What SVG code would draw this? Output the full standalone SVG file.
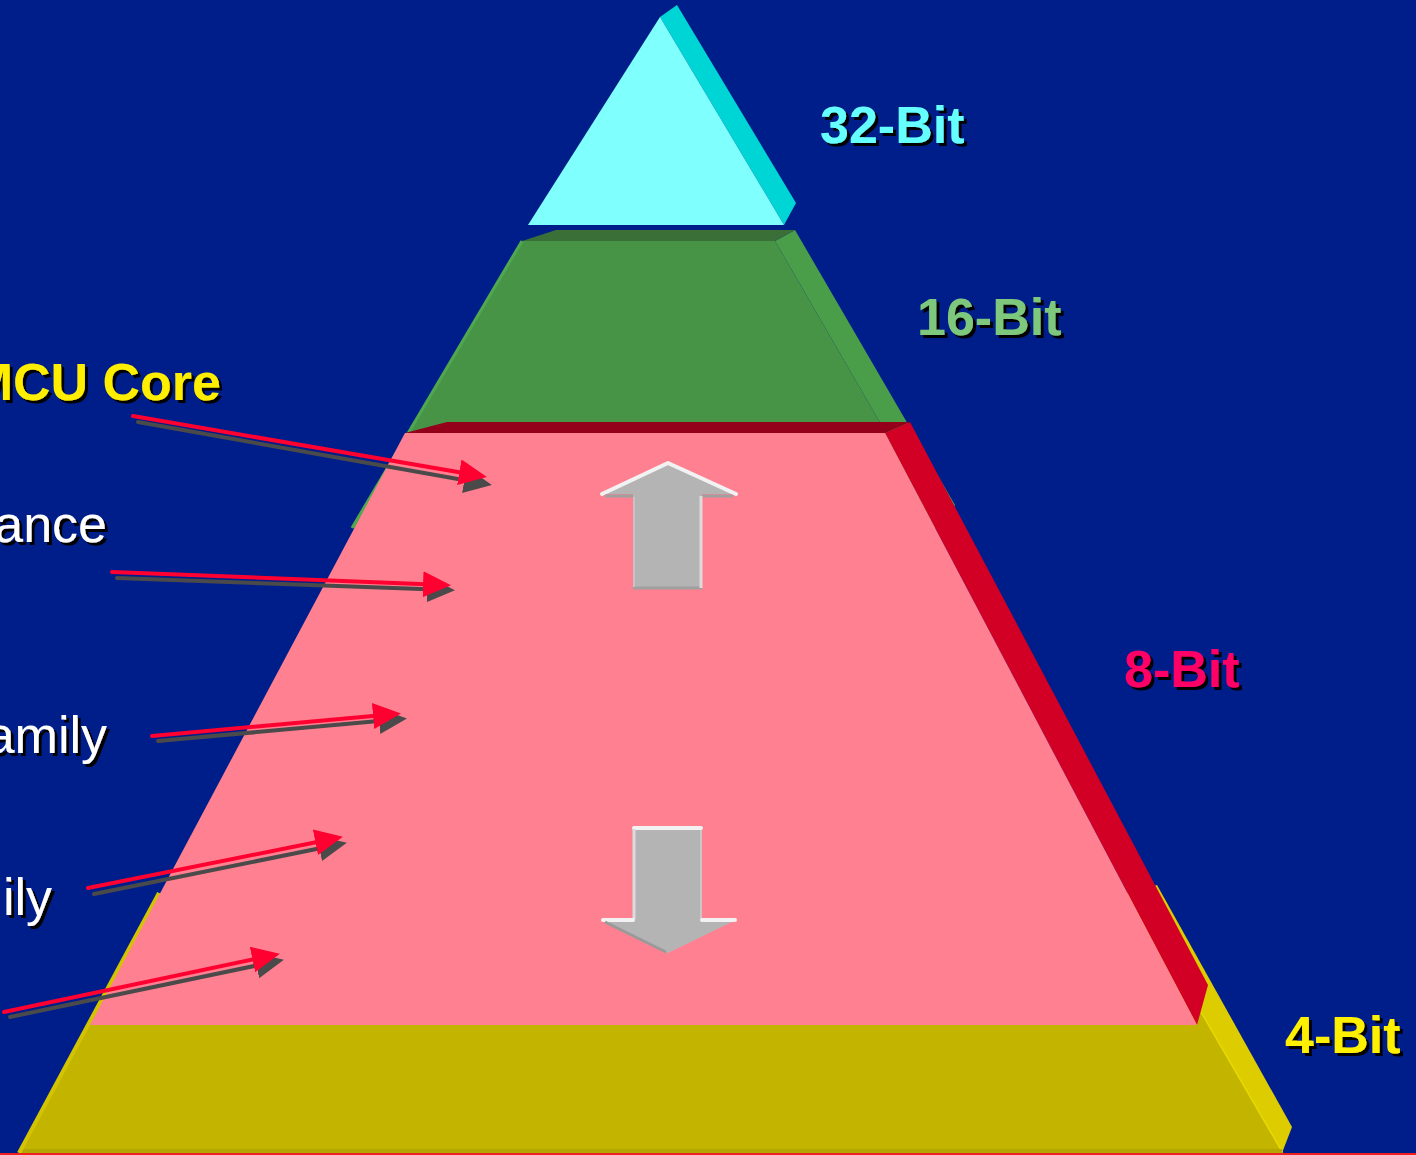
<svg xmlns="http://www.w3.org/2000/svg" width="1416" height="1155" viewBox="0 0 1416 1155">
<defs>
<style>
.lbl{font-family:"Liberation Sans",Arial,sans-serif;font-weight:bold;font-size:52px;filter:url(#ds)}
.txt{font-family:"Liberation Sans",Arial,sans-serif;font-size:52px;filter:url(#ds)}
.ln{stroke-width:4;stroke-linecap:round;fill:none}
.red{stroke:#FF0030}
.gray{stroke:#4A4A4A}
</style>
<filter id="ds" x="-10%" y="-20%" width="130%" height="150%">
<feDropShadow dx="3" dy="3" stdDeviation="0" flood-color="#000000" flood-opacity="1"/>
</filter>
<marker id="hr" markerUnits="userSpaceOnUse" markerWidth="30" markerHeight="28" refX="22" refY="13" orient="auto">
<path d="M0,0 L28,13 L0,26 Z" fill="#FF0030"/>
</marker>
<marker id="hg" markerUnits="userSpaceOnUse" markerWidth="30" markerHeight="28" refX="22" refY="13" orient="auto">
<path d="M0,0 L28,13 L0,26 Z" fill="#4A4A4A"/>
</marker>
</defs>
<rect x="0" y="0" width="1416" height="1155" fill="#001E8A"/>

<g id="layer-4bit">
<polygon points="1131,893 1157,885 1292,1127 1282,1153" fill="#DCCC00"/>
<line x1="1131" y1="893" x2="1282" y2="1153" stroke="#E8DA00" stroke-width="3"/>
<polygon points="158,893 1131,893 1282,1153 19,1153" fill="#C3B400"/>
<rect x="19" y="1149" width="1263" height="4" fill="#B4A600"/>
<line x1="159" y1="893" x2="19" y2="1153" stroke="#D4C400" stroke-width="4"/>
</g>

<g id="layer-16bit">
<polygon points="775,241 795,230 955,505 941,528" fill="#4A9E4A"/>
<polygon points="522,241 775,241 941,528 352,528" fill="#479447"/>
<polygon points="522,241 556,230 795,230 775,241" fill="#3A7038"/>
<line x1="522" y1="241" x2="352" y2="528" stroke="#4FA84F" stroke-width="3"/>
</g>

<g id="layer-8bit">
<polygon points="885,433 910,422 1208,985 1197,1025" fill="#D20025"/>
<polygon points="405,433 885,433 1197,1025 90,1025" fill="#FF8090"/>
<polygon points="405,433 447,422 910,422 885,433" fill="#94001A"/>
</g>

<g id="layer-32bit">
<polygon points="660,17 677,5 796,203 784,225" fill="#00D5D5"/>
<polygon points="660,17 784,225 528,225" fill="#80FFFF"/>
</g>

<rect x="0" y="1153" width="1416" height="2" fill="#F02020"/>

<g id="arrow-up">
<polygon points="668,463 736,494 702,494 702,589 633,589 633,494 602,494" fill="#B4B4B4"/>
<polyline points="602,494 668,463 736,494" fill="none" stroke="#F2F2F2" stroke-width="4" stroke-linejoin="round" stroke-linecap="round"/>
<line x1="605" y1="496" x2="633" y2="496" stroke="#A0A0A0" stroke-width="3"/>
<line x1="702" y1="496" x2="733" y2="496" stroke="#A0A0A0" stroke-width="3"/>
<line x1="633" y1="588" x2="702" y2="588" stroke="#A0A0A0" stroke-width="3"/>
<line x1="701" y1="496" x2="701" y2="588" stroke="#DCDCDC" stroke-width="3"/>
<line x1="634" y1="497" x2="634" y2="587" stroke="#C4C4C4" stroke-width="2"/>
</g>

<g id="arrow-down">
<polygon points="633,827 702,827 702,920 736,920 668,953 602,920 633,920" fill="#B4B4B4"/>
<line x1="634" y1="828" x2="701" y2="828" stroke="#F2F2F2" stroke-width="4" stroke-linecap="round"/>
<line x1="634" y1="829" x2="634" y2="919" stroke="#DCDCDC" stroke-width="3"/>
<line x1="701" y1="830" x2="701" y2="919" stroke="#C8C8C8" stroke-width="2"/>
<line x1="603" y1="920" x2="633" y2="920" stroke="#F2F2F2" stroke-width="4" stroke-linecap="round"/>
<line x1="702" y1="920" x2="735" y2="920" stroke="#F2F2F2" stroke-width="4" stroke-linecap="round"/>
<line x1="605" y1="922" x2="666" y2="952" stroke="#9A9A9A" stroke-width="3"/>
</g>

<g id="connectors">
<line class="ln gray" x1="138" y1="422" x2="486" y2="484" marker-end="url(#hg)"/>
<line class="ln red" x1="133" y1="416" x2="481" y2="476" marker-end="url(#hr)"/>
<line class="ln gray" x1="117" y1="578" x2="449" y2="590" marker-end="url(#hg)"/>
<line class="ln red" x1="112" y1="572" x2="445" y2="585" marker-end="url(#hr)"/>
<line class="ln gray" x1="158" y1="741" x2="401" y2="719" marker-end="url(#hg)"/>
<line class="ln red" x1="152" y1="736" x2="395" y2="714" marker-end="url(#hr)"/>
<line class="ln gray" x1="94" y1="894" x2="341" y2="844" marker-end="url(#hg)"/>
<line class="ln red" x1="88" y1="888" x2="337" y2="838" marker-end="url(#hr)"/>
<line class="ln gray" x1="10" y1="1017" x2="278" y2="961" marker-end="url(#hg)"/>
<line class="ln red" x1="4" y1="1012" x2="274" y2="955" marker-end="url(#hr)"/>
</g>

<g id="label-32bit"><text class="lbl" x="820" y="143" fill="#66FFFF">32-Bit</text></g>
<g id="label-16bit"><text class="lbl" x="917" y="335" fill="#7DC87D">16-Bit</text></g>
<g id="label-8bit"><text class="lbl" x="1124" y="687" fill="#FF0066">8-Bit</text></g>
<g id="label-4bit"><text class="lbl" x="1285" y="1053" fill="#FFF000">4-Bit</text></g>
<g id="label-mcu"><text class="lbl" x="221" y="400" text-anchor="end" fill="#FFEE00">MCU Core</text></g>
<g id="label-ance"><text class="txt" x="107" y="542" text-anchor="end" fill="#FFFFFF">ance</text></g>
<g id="label-amily"><text class="txt" x="107" y="753" text-anchor="end" fill="#FFFFFF">amily</text></g>
<g id="label-ily"><text class="txt" x="52" y="915" text-anchor="end" fill="#FFFFFF">ily</text></g>
</svg>
